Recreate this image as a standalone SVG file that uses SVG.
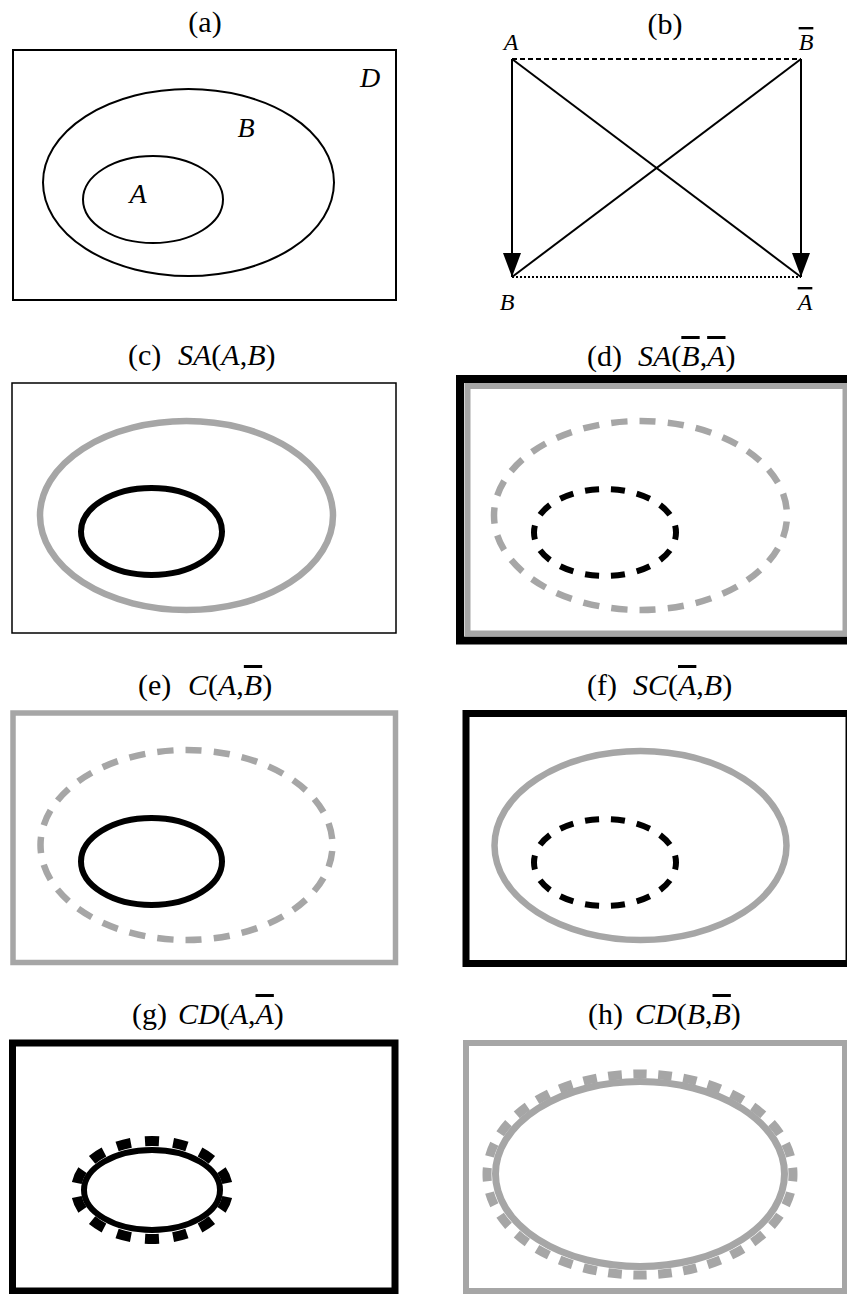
<svg xmlns="http://www.w3.org/2000/svg" width="847" height="1294" viewBox="0 0 847 1294">
<defs>
<style>
text{font-family:"Liberation Serif","Times New Roman",serif;fill:#000}
.t{font-size:30px}
.lab{font-size:28px;font-style:italic}
.labb{font-size:24px;font-style:italic}
.i{font-style:italic}
.ov{text-decoration:overline}
.thin{fill:none;stroke:#000;stroke-width:2}
.blk{fill:none;stroke:#000;stroke-width:6}
.gry{fill:none;stroke:#a6a6a6;stroke-width:6.5}
.dashG{stroke-dasharray:16 12;stroke-dashoffset:22}
.dashK{stroke-dasharray:14 12;stroke-dashoffset:7}
.conn{stroke:#000;stroke-width:2;fill:none}
</style>
<marker id="arr" viewBox="0 0 24 18" refX="24" refY="9" markerWidth="24" markerHeight="18" markerUnits="userSpaceOnUse" orient="auto">
<path d="M0,0 L24,9 L0,18 Z" fill="#000"/>
</marker>
</defs>
<rect width="847" height="1294" fill="#fff"/>

<g id="panel-a">
<text class="t" x="205" y="32" text-anchor="middle">(a)</text>
<rect x="13" y="50" width="383" height="250" class="thin"/>
<ellipse cx="188.5" cy="182.5" rx="145.5" ry="93.5" class="thin"/>
<ellipse cx="153" cy="199.5" rx="70" ry="43.5" class="thin"/>
<text class="lab" x="370" y="87" text-anchor="middle">D</text>
<text class="lab" x="246" y="137" text-anchor="middle">B</text>
<text class="lab" x="138" y="203" text-anchor="middle">A</text>
</g>

<g id="panel-b">
<text class="t" x="665" y="34" text-anchor="middle">(b)</text>
<g id="node-A"><text class="labb" x="511" y="50" text-anchor="middle">A</text></g>
<g id="node-notB"><text class="labb" x="806" y="50" text-anchor="middle"><tspan class="ov">B</tspan></text></g>
<g id="node-B"><text class="labb" x="507" y="310" text-anchor="middle">B</text></g>
<g id="node-notA"><text class="labb" x="805" y="310" text-anchor="middle"><tspan class="ov">A</tspan></text></g>
<g id="connectors">
<line x1="512" y1="59" x2="801" y2="59" class="conn" stroke-dasharray="5 3"/>
<line x1="512" y1="277" x2="801" y2="277" class="conn" stroke-dasharray="2 2"/>
<line x1="512" y1="59" x2="512" y2="277" class="conn" marker-end="url(#arr)"/>
<line x1="801" y1="59" x2="801" y2="277" class="conn" marker-end="url(#arr)"/>
<line x1="512" y1="59" x2="801" y2="277" class="conn"/>
<line x1="801" y1="59" x2="512" y2="277" class="conn"/>
</g>
</g>

<g id="panel-c">
<text class="t" x="128" y="365">(c)<tspan x="178" class="i">SA</tspan>(<tspan class="i">A</tspan>,<tspan class="i">B</tspan>)</text>
<rect x="12" y="383" width="384" height="250" fill="none" stroke="#000" stroke-width="1.5"/>
<ellipse cx="186.5" cy="515.5" rx="146.5" ry="94.5" class="gry"/>
<ellipse cx="151.5" cy="531.5" rx="70.5" ry="43.5" class="blk"/>
</g>

<g id="panel-d">
<text class="t" x="587" y="366">(d)<tspan x="638" class="i">SA</tspan>(<tspan class="i ov">B</tspan>,<tspan class="i ov">A</tspan>)</text>
<rect x="460" y="379" width="392" height="261.5" fill="none" stroke="#000" stroke-width="8"/>
<rect x="467.5" y="386" width="378" height="247.5" fill="none" stroke="#a6a6a6" stroke-width="6"/>
<ellipse cx="640.5" cy="515.5" rx="146.5" ry="94.5" class="gry dashG" pathLength="756"/>
<ellipse cx="605" cy="532.5" rx="71" ry="43.5" class="blk dashK" pathLength="364"/>
</g>

<g id="panel-e">
<text class="t" x="138" y="695">(e)<tspan x="188" class="i">C</tspan>(<tspan class="i">A</tspan>,<tspan class="i ov">B</tspan>)</text>
<rect x="13" y="713" width="382.5" height="249.5" fill="none" stroke="#a6a6a6" stroke-width="5.5"/>
<ellipse cx="186.5" cy="845" rx="146" ry="95" class="gry dashG" pathLength="756"/>
<ellipse cx="151.5" cy="861.5" rx="70.5" ry="43.5" class="blk"/>
</g>

<g id="panel-f">
<text class="t" x="587" y="695">(f)<tspan x="633" class="i">SC</tspan>(<tspan class="i ov">A</tspan>,<tspan class="i">B</tspan>)</text>
<rect x="466" y="713.5" width="383" height="250" fill="none" stroke="#000" stroke-width="7"/>
<ellipse cx="640.5" cy="845.5" rx="146" ry="94.5" class="gry"/>
<ellipse cx="605" cy="862.5" rx="71" ry="43.5" class="blk dashK" pathLength="364"/>
</g>

<g id="panel-g">
<text class="t" x="132" y="1024">(g)<tspan x="178" class="i">CD</tspan>(<tspan class="i">A</tspan>,<tspan class="i ov">A</tspan>)</text>
<rect x="12.5" y="1043" width="382.5" height="248" fill="none" stroke="#000" stroke-width="7"/>
<ellipse cx="152" cy="1190" rx="76" ry="49" fill="none" stroke="#000" stroke-width="10" stroke-dasharray="14 14" stroke-dashoffset="21" pathLength="392"/>
<ellipse cx="152" cy="1190" rx="68" ry="40" class="blk"/>
</g>

<g id="panel-h">
<text class="t" x="588" y="1024">(h)<tspan x="635" class="i">CD</tspan>(<tspan class="i">B</tspan>,<tspan class="i ov">B</tspan>)</text>
<rect x="466" y="1043" width="379" height="248" fill="none" stroke="#a6a6a6" stroke-width="6"/>
<ellipse cx="640" cy="1174.5" rx="153" ry="100.5" fill="none" stroke="#a6a6a6" stroke-width="9" stroke-dasharray="14 12" stroke-dashoffset="7" pathLength="832"/>
<ellipse cx="640" cy="1174" rx="144.5" ry="92.5" fill="none" stroke="#a6a6a6" stroke-width="7"/>
</g>
</svg>
